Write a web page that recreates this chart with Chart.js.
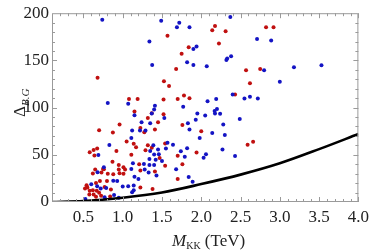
<!DOCTYPE html>
<html>
<head>
<meta charset="utf-8">
<script src="https://cdn.jsdelivr.net/npm/chart.js@4.4.0/dist/chart.umd.min.js"></script>
<style>
  html, body { margin: 0; padding: 0; background: #fff; }
  #wrap { width: 374px; height: 250px; }
</style>
</head>
<body>
<div id="wrap"><canvas id="myChart" width="374" height="250"></canvas></div>
<script>
// values
const xTicks = [0.5, 1.0, 1.5, 2.0, 2.5, 3.0, 3.5, 4.0];
const yTicks = [0, 50, 100, 150, 200];

const bluePoints = [
  [0.74,193],[1.49,192],[1.34,170],[1.375,145],[0.81,105],[1.07,104],[1.41,102],
  [1.72,190],[1.69,185],[1.85,185],[2.37,196],[2.71,172.6],[2.89,171],[1.90,162],
  [1.94,164.6],[2.38,154.5],[2.33,152],[2.32,150.5],[1.82,148],[1.90,145],[2.07,143.7],
  [2.80,139.6],[3.18,142.7],[3.53,144.8],[3.00,127.4],[2.40,113.9],[2.08,106.6],
  [2.19,109],[2.55,109.7],[2.62,111.5],[2.72,109.7],[1.77,101],
  [0.83,60.4],[0.69,49.7],[0.76,36.8],[0.68,31.6],[0.88,22.6],[0.93,22.2],[0.60,18.75],
  [1.00,16.3],[1.07,16.7],[0.525,3.1],[0.72,14.2],[0.79,14.9],[0.77,4.9],[0.89,7.3],
  [0.675,16.7],[0.95,4.5],[1.40,98],[1.15,92],[1.37,93.7],[1.53,89],[1.24,84.4],
  [1.35,83.3],[1.83,83.3],[1.95,93.7],[2.05,91.7],[1.93,87],[1.85,76.7],[1.22,75.7],
  [1.29,75.7],[1.12,75.7],[1.98,67.7],[1.11,67.7],[1.39,60],[1.35,54],[1.57,62.8],
  [1.64,60.7],[1.55,56.6],[1.45,55.5],[1.82,57],[1.74,53.8],[2.06,50.7],[1.40,50.3],
  [1.46,50.7],[1.79,48],[1.34,45.5],[1.42,44.8],[1.50,43.4],[1.13,41],[1.27,40.3],
  [1.34,39.2],[1.40,39.2],[1.68,34.7],[1.11,35],[1.28,34.4],[1.33,31.25],[1.43,28],
  [1.15,26.7],[1.20,24.3],[1.89,21.5],[1.84,26.4],[1.14,17.4],[1.14,12.5],[1.12,10.4],
  [2.20,98.6],[2.17,96.5],[2.175,93.75],[2.24,93.4],[2.49,88],[2.28,82],[2.14,73],
  [2.30,71],[2.27,55.5],[2.43,48.6],[2.03,47]
];

const redPoints = [
  [1.57,176],[0.68,131.6],[1.525,128],[1.59,123],[1.08,109],[1.19,109],[1.52,108.6],
  [2.14,182],[2.175,186.5],[2.31,181],[2.825,185],[2.92,185],[2.225,168],[1.84,164],
  [1.75,157],[1.68,141],[2.57,139.6],[2.75,141],[2.62,125.7],[1.78,112.8],[1.70,109],
  [1.85,110],[2.43,114],[0.96,82],[0.70,76],[0.875,73.6],[0.675,56.6],[0.63,55],
  [0.58,52.8],[0.92,54],[0.64,49.3],[0.87,42.7],[0.95,39.2],[1.01,36.8],[0.75,35],
  [0.65,34.4],[0.95,34.4],[0.62,30.2],[0.73,31.2],[0.81,29.9],[0.88,29.5],[0.96,30.5],
  [0.71,22.2],[0.55,15.3],[0.52,14.2],[0.66,20.1],[0.77,16],[0.62,12.5],[0.575,8],
  [0.63,8],[0.67,11.8],[0.66,5.5],[0.725,6.6],[0.84,5.9],[0.85,13.2],[0.80,22.2],
  [1.03,34.4],[1.01,29.9],[0.76,34.7],[0.58,11.8],[0.70,9.7],[0.54,17.7],[1.15,95.8],
  [1.37,94],[1.32,89],[1.52,93],[1.45,84.4],[1.76,81.6],[1.225,78.4],[1.275,74],
  [1.41,76.7],[1.14,61.8],[1.17,58],[1.05,64],[1.32,60],[1.29,54.9],[1.37,57.6],
  [1.54,62],[1.94,52.4],[1.11,50],[1.70,49],[1.47,46.5],[1.21,40],[1.54,38.5],
  [1.76,40],[1.225,33.3],[1.41,32.3],[1.70,24.3],[1.225,15.3],[1.38,13.9],
  [2.59,60.7],[2.66,63.9],[2.0,75]
];

// bound curve
const curveX = [0.1, 0.5, 1.0, 1.5, 2.0, 2.5, 3.0, 3.5, 4.0];
const curveY = [0, 1, 4.5, 10, 19, 29, 41, 56, 72];

const toXY = arr => arr.map(p => ({x: p[0], y: p[1]}));

// frame + inward ticks, mathematica style
const framePlugin = {
  id: 'frame',
  afterDraw(chart) {
    const {ctx, chartArea: a, scales: {x, y}} = chart;
    ctx.save();
    ctx.strokeStyle = '#9a9a9a';
    ctx.lineWidth = 1;
    ctx.strokeRect(a.left + 0.5, a.top + 0.5, a.right - a.left - 1, a.bottom - a.top - 1);
    ctx.beginPath();
    for (let i = 2; i <= 40; i++) {
      const v = i / 10;
      const px = Math.round(x.getPixelForValue(v)) + 0.5;
      const len = (i % 5 === 0) ? 5 : 3;
      ctx.moveTo(px, a.bottom); ctx.lineTo(px, a.bottom - len);
      ctx.moveTo(px, a.top); ctx.lineTo(px, a.top + len);
    }
    for (let v = 10; v < 200; v += 10) {
      const py = Math.round(y.getPixelForValue(v)) + 0.5;
      const len = (v % 50 === 0) ? 5 : 3;
      ctx.moveTo(a.left, py); ctx.lineTo(a.left + len, py);
      ctx.moveTo(a.right, py); ctx.lineTo(a.right - len, py);
    }
    ctx.stroke();

    // axis titles
    ctx.fillStyle = '#222';
    ctx.textBaseline = 'alphabetic';
    // x title
    ctx.font = 'italic 17px "Liberation Serif"';
    let tx = 172, ty = 246;
    ctx.fillText('M', tx, ty);
    tx += ctx.measureText('M').width;
    ctx.font = '10px "Liberation Serif"';
    ctx.fillText('KK', tx, ty + 3);
    tx += ctx.measureText('KK').width;
    ctx.font = '17px "Liberation Serif"';
    ctx.fillText(' (TeV)', tx, ty);
    // y title
    ctx.translate(25, 117);
    ctx.rotate(-Math.PI / 2);
    ctx.font = '17px "Liberation Serif"';
    ctx.fillText('\u0394', 0, 0);
    const dw = ctx.measureText('\u0394').width;
    ctx.font = 'italic 11px "Liberation Serif"';
    ctx.fillText('B.G', dw, 4);
    ctx.restore();
  }
};

const ctx = document.getElementById('myChart');
const myChart = new Chart(ctx, {
  type: 'scatter',
  data: {
    datasets: [
      {
        label: 'bound',
        data: curveX.map((v, i) => ({x: v, y: curveY[i]})),
        showLine: true,
        borderColor: '#000',
        borderWidth: 2.6,
        pointRadius: 0,
        cubicInterpolationMode: 'monotone',
        order: 0
      },
      {
        label: 'blue',
        data: toXY(bluePoints),
        backgroundColor: '#1414c4',
        borderWidth: 0,
        pointRadius: 2,
        order: 1
      },
      {
        label: 'red',
        data: toXY(redPoints),
        backgroundColor: '#c01010',
        borderWidth: 0,
        pointRadius: 2,
        order: 2
      }
    ]
  },
  options: {
    responsive: false,
    animation: false,
    layout: { padding: { top: 10, right: 10, left: 0, bottom: 0 } },
    plugins: { legend: { display: false }, tooltip: { enabled: false } },
    scales: {
      x: {
        type: 'linear',
        min: 0.1,
        max: 4.0,
        afterBuildTicks: s => { s.ticks = xTicks.map(v => ({value: v})); },
        afterFit: s => { s.height = 48; },
        grid: { display: false, drawTicks: false },
        border: { display: false },
        ticks: {
          padding: 5,
          color: '#222',
          font: { family: '"Liberation Serif"', size: 17 },
          callback: v => v.toFixed(1),
          maxRotation: 0,
          autoSkip: false
        }
      },
      y: {
        type: 'linear',
        min: 0,
        max: 200,
        afterBuildTicks: s => { s.ticks = yTicks.map(v => ({value: v})); },
        afterFit: s => { s.width = 52; },
        grid: { display: false, drawTicks: false },
        border: { display: false },
        ticks: {
          padding: 3,
          color: '#222',
          font: { family: '"Liberation Serif"', size: 17 },
          autoSkip: false
        }
      }
    }
  },
  plugins: [framePlugin]
});
</script>
</body>
</html>
